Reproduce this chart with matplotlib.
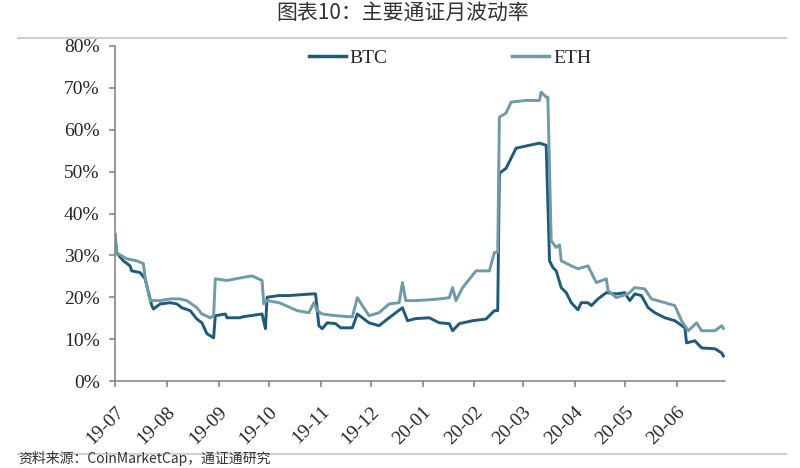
import pandas as pd
import matplotlib
matplotlib.use('Agg')
import matplotlib.pyplot as plt
import matplotlib.dates as mdates
from matplotlib.ticker import PercentFormatter, MultipleLocator
from matplotlib.lines import Line2D

# data (30-day volatility, %)
btc_dates = ['2019-07-01', '2019-07-02', '2019-07-06', '2019-07-10', '2019-07-11', '2019-07-16',
             '2019-07-19', '2019-07-23', '2019-07-24', '2019-07-28', '2019-08-03', '2019-08-07',
             '2019-08-10', '2019-08-15', '2019-08-19', '2019-08-22', '2019-08-25', '2019-08-29',
             '2019-08-30', '2019-09-05', '2019-09-06', '2019-09-14', '2019-09-15', '2019-09-27',
             '2019-09-29', '2019-09-30', '2019-10-07', '2019-10-13', '2019-10-27', '2019-10-29',
             '2019-10-31', '2019-11-02', '2019-11-05', '2019-11-10', '2019-11-13', '2019-11-20',
             '2019-11-23', '2019-11-26', '2019-11-30', '2019-12-06', '2019-12-12', '2019-12-16',
             '2019-12-20', '2019-12-23', '2019-12-28', '2020-01-05', '2020-01-11', '2020-01-17',
             '2020-01-19', '2020-01-23', '2020-01-31', '2020-02-08', '2020-02-13', '2020-02-15',
             '2020-02-16', '2020-02-20', '2020-02-23', '2020-02-26', '2020-03-05', '2020-03-11',
             '2020-03-15', '2020-03-17', '2020-03-19', '2020-03-21', '2020-03-24', '2020-03-27',
             '2020-03-30', '2020-04-03', '2020-04-05', '2020-04-09', '2020-04-11', '2020-04-15',
             '2020-04-20', '2020-04-26', '2020-05-01', '2020-05-04', '2020-05-07', '2020-05-11',
             '2020-05-15', '2020-05-19', '2020-05-25', '2020-05-31', '2020-06-06', '2020-06-07',
             '2020-06-12', '2020-06-16', '2020-06-24', '2020-06-28', '2020-06-29']
btc = [35.0, 30.6, 28.7, 27.5, 26.3, 25.9,
       24.4, 18.0, 17.2, 18.4, 18.7, 18.4,
       17.5, 16.8, 14.8, 13.9, 11.3, 10.3,
       15.6, 16.0, 15.1, 15.1, 15.3, 16.0,
       12.5, 20.0, 20.4, 20.4, 20.8, 20.8,
       13.2, 12.5, 13.9, 13.7, 12.7, 12.7,
       16.0, 15.1, 13.9, 13.2, 15.1, 16.3,
       17.5, 14.4, 14.9, 15.1, 13.9, 13.7,
       12.0, 13.7, 14.4, 14.8, 16.8, 16.8,
       49.6, 50.8, 53.2, 55.6, 56.3, 56.8,
       56.3, 28.7, 27.1, 26.3, 22.3, 21.1,
       18.7, 17.0, 18.7, 18.7, 18.0, 19.6,
       21.1, 20.8, 21.1, 19.2, 20.8, 20.4,
       17.5, 16.3, 15.1, 14.4, 12.7, 9.1,
       9.6, 7.9, 7.7, 6.7, 6.0]

eth_dates = ['2019-07-01', '2019-07-02', '2019-07-08', '2019-07-14', '2019-07-18', '2019-07-19',
             '2019-07-22', '2019-07-28', '2019-08-03', '2019-08-09', '2019-08-13', '2019-08-19',
             '2019-08-22', '2019-08-27', '2019-08-29', '2019-08-30', '2019-09-06', '2019-09-15',
             '2019-09-21', '2019-09-27', '2019-09-28', '2019-09-30', '2019-10-07', '2019-10-09',
             '2019-10-18', '2019-10-25', '2019-10-28', '2019-10-30', '2019-11-02', '2019-11-10',
             '2019-11-20', '2019-11-23', '2019-11-26', '2019-11-30', '2019-12-06', '2019-12-12',
             '2019-12-18', '2019-12-20', '2019-12-22', '2019-12-28', '2020-01-05', '2020-01-11',
             '2020-01-17', '2020-01-19', '2020-01-21', '2020-01-25', '2020-02-02', '2020-02-10',
             '2020-02-13', '2020-02-15', '2020-02-16', '2020-02-20', '2020-02-23', '2020-03-03',
             '2020-03-11', '2020-03-12', '2020-03-15', '2020-03-16', '2020-03-18', '2020-03-21',
             '2020-03-23', '2020-03-24', '2020-03-30', '2020-04-03', '2020-04-09', '2020-04-14',
             '2020-04-20', '2020-04-21', '2020-04-26', '2020-05-03', '2020-05-07', '2020-05-13',
             '2020-05-17', '2020-05-25', '2020-05-31', '2020-06-04', '2020-06-08', '2020-06-13',
             '2020-06-16', '2020-06-24', '2020-06-28', '2020-06-29']
eth = [35.0, 30.6, 29.2, 28.7, 28.0, 24.7,
       19.2, 19.2, 19.6, 19.6, 19.2, 17.5,
       16.0, 15.1, 15.6, 24.4, 24.0, 24.7,
       25.1, 24.0, 18.4, 19.2, 18.7, 18.4,
       16.8, 16.3, 18.7, 16.8, 16.0, 15.6,
       15.3, 19.9, 18.0, 15.6, 16.3, 18.4,
       18.7, 23.5, 19.2, 19.2, 19.4, 19.6,
       19.9, 22.3, 19.2, 22.3, 26.3, 26.3,
       30.7, 30.7, 63.0, 64.0, 66.6, 67.0,
       67.0, 69.0, 67.8, 67.8, 33.5, 31.9,
       32.5, 28.7, 27.5, 26.8, 27.5, 23.5,
       24.4, 21.6, 19.9, 20.8, 22.3, 22.0,
       19.6, 18.7, 18.0, 14.4, 12.0, 13.9,
       12.0, 12.0, 13.2, 12.6]

btc_color = '#1e5b7a'
eth_color = '#6f9aaa'

plt.rcParams['font.family'] = ['Liberation Serif', 'Noto Sans CJK SC']

fig = plt.figure(figsize=(8, 4.68), dpi=100)
ax = fig.add_axes([115 / 800, 1 - 381 / 468, 610 / 800, 335 / 468])

ax.plot(pd.to_datetime(btc_dates), btc, color=btc_color, lw=2.1, solid_joinstyle='round')
ax.plot(pd.to_datetime(eth_dates), eth, color=eth_color, lw=2.1, solid_joinstyle='round')

ax.set_ylim(0, 80)
ax.set_xlim(pd.Timestamp('2019-07-01'), pd.Timestamp('2020-06-30'))
ax.yaxis.set_major_locator(MultipleLocator(10))
ax.yaxis.set_major_formatter(PercentFormatter(decimals=0))
ax.xaxis.set_major_locator(mdates.MonthLocator())
ax.xaxis.set_major_formatter(mdates.DateFormatter('%y-%m'))

for s in ['top', 'right']:
    ax.spines[s].set_visible(False)
for s in ['left', 'bottom']:
    ax.spines[s].set_color('#7f7f7f')
    ax.spines[s].set_linewidth(1.1)
ax.tick_params(colors='#7f7f7f', labelcolor='#262626', labelsize=14, length=4, width=1.1)
ax.tick_params(axis='y', pad=7)
ax.tick_params(axis='x', pad=12)
plt.setp(ax.get_xticklabels(), rotation=45, ha='right', rotation_mode='anchor', va='top')

handles = [Line2D([], [], color=btc_color, lw=2.5), Line2D([], [], color=eth_color, lw=2.5)]
leg = fig.legend(handles, ['BTC', 'ETH'], loc='center', bbox_to_anchor=(450 / 800, 1 - 58 / 468),
                 ncol=2, frameon=False, fontsize=14, handlelength=1.9, handletextpad=0.2,
                 columnspacing=6.4)
for t in leg.get_texts():
    t.set_color('#262626')

# header / footer pieces of the report page
fig.add_artist(Line2D([18 / 800, 786 / 800], [1 - 38 / 468, 1 - 38 / 468], color='#cfcfcf', lw=1.5))
fig.add_artist(Line2D([18 / 800, 786 / 800], [1 - 454 / 468, 1 - 454 / 468], color='#cfcfcf', lw=1.5))
fig.text(0.503, 1 - 2 / 468, '图表10：主要通证月波动率', ha='center', va='top', fontsize=15,
         family=['Noto Sans CJK SC'], color='#333333')
fig.text(18 / 800, 1 - 466 / 468, '资料来源：CoinMarketCap，通证通研究', ha='left', va='bottom', fontsize=10,
         family=['Noto Sans CJK SC'], color='#333333', style='italic')

fig.savefig('out.png', dpi=100)
